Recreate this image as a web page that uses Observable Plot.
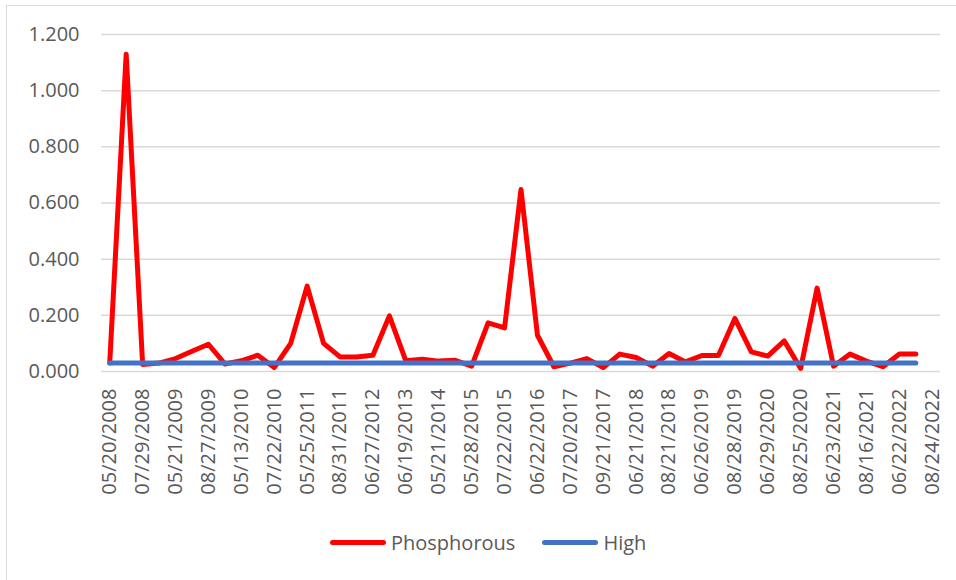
<!DOCTYPE html>
<html>
<head>
<meta charset="utf-8">
<script src="https://cdn.jsdelivr.net/npm/d3@7"></script>
<script src="https://cdn.jsdelivr.net/npm/@observablehq/plot@0.6"></script>
<style>
  html, body { margin: 0; padding: 0; background: #fff; overflow: hidden; }
  #wrap { position: relative; width: 956px; height: 580px; font-family: "Open Sans", sans-serif; }
  #border { position: absolute; left: 6px; top: 5px; width: 1200px; height: 900px; border: 1px solid #d9d9d9; box-sizing: border-box; pointer-events: none; }
  #chart { position: absolute; left: 0; top: 0; }
  #legend { position: absolute; left: 330px; top: 529px; display: flex; align-items: center; font-size: 20px; color: #595959; white-space: nowrap; }
  .sw { display: inline-block; width: 56px; height: 5px; border-radius: 3px; margin-right: 5px; }
  .item { display: flex; align-items: center; margin-right: 27px; }
</style>
</head>
<body>
<div id="wrap">
  <div id="border"></div>
  <div id="chart"></div>
  <div id="legend">
    <span class="item"><span class="sw" style="background:#ff0000"></span>Phosphorous</span>
    <span class="item"><span class="sw" style="background:#4472c4"></span>High</span>
  </div>
</div>
<script>
// Category labels shown on the axis (every other sampling date, 51 categories in total)
const tickLabels = [
  "05/20/2008", "07/29/2008", "05/21/2009", "08/27/2009", "05/13/2010", "07/22/2010",
  "05/25/2011", "08/31/2011", "06/27/2012", "06/19/2013", "05/21/2014", "05/28/2015",
  "07/22/2015", "06/22/2016", "07/20/2017", "09/21/2017", "06/21/2018", "08/21/2018",
  "06/26/2019", "08/28/2019", "06/29/2020", "08/25/2020", "06/23/2021", "08/16/2021",
  "06/22/2022", "08/24/2022"
];
const categoryCount = 51;

// Phosphorous values for categories 0..49 (category 50 is blank)
const phosphorous = [
  0.030, 1.130, 0.025, 0.030, 0.046, 0.072, 0.097, 0.027, 0.038, 0.058,
  0.014, 0.100, 0.304, 0.100, 0.052, 0.052, 0.058, 0.198, 0.038, 0.044,
  0.037, 0.040, 0.019, 0.173, 0.155, 0.648, 0.129, 0.017, 0.030, 0.046,
  0.014, 0.062, 0.050, 0.019, 0.064, 0.034, 0.057, 0.057, 0.189, 0.070,
  0.055, 0.109, 0.011, 0.297, 0.019, 0.062, 0.037, 0.017, 0.062, 0.062
];
// "High" threshold
const high = phosphorous.map(() => 0.03);

const yTicks = [0, 0.2, 0.4, 0.6, 0.8, 1.0, 1.2];

const pData = phosphorous.map((v, i) => ({i, v}));
const hData = high.map((v, i) => ({i, v}));
const xTicks = tickLabels.map((_, k) => k * 2);

const chart = Plot.plot({
  width: 956,
  height: 520,
  marginLeft: 101,
  marginRight: 16,
  marginTop: 34,
  marginBottom: 149,
  style: { fontFamily: "Open Sans, sans-serif", background: "transparent", overflow: "visible" },
  x: { domain: [-0.5, categoryCount - 0.5], axis: null, label: null },
  y: { domain: [0, 1.2], axis: null, label: null },
  marks: [
    Plot.gridY(yTicks, { stroke: "#d9d9d9", strokeOpacity: 1, strokeWidth: 1.5 }),
    Plot.axisY(yTicks, {
      label: null, tickSize: 0, tickPadding: 22, fontSize: 20, fill: "#595959",
      tickFormat: d => d.toFixed(3)
    }),
    Plot.axisX(xTicks, {
      label: null, tickSize: 0, tickPadding: 17, fontSize: 20, fill: "#595959", rotate: -90,
      textAnchor: "end", lineAnchor: "middle",
      tickFormat: d => tickLabels[d / 2]
    }),
    Plot.line(pData, { x: "i", y: "v", stroke: "#ff0000", strokeWidth: 5, strokeLinejoin: "round", strokeLinecap: "round" }),
    Plot.line(hData, { x: "i", y: "v", stroke: "#4472c4", strokeWidth: 5, strokeLinecap: "round" })
  ]
});
document.getElementById("chart").appendChild(chart);
</script>
</body>
</html>
